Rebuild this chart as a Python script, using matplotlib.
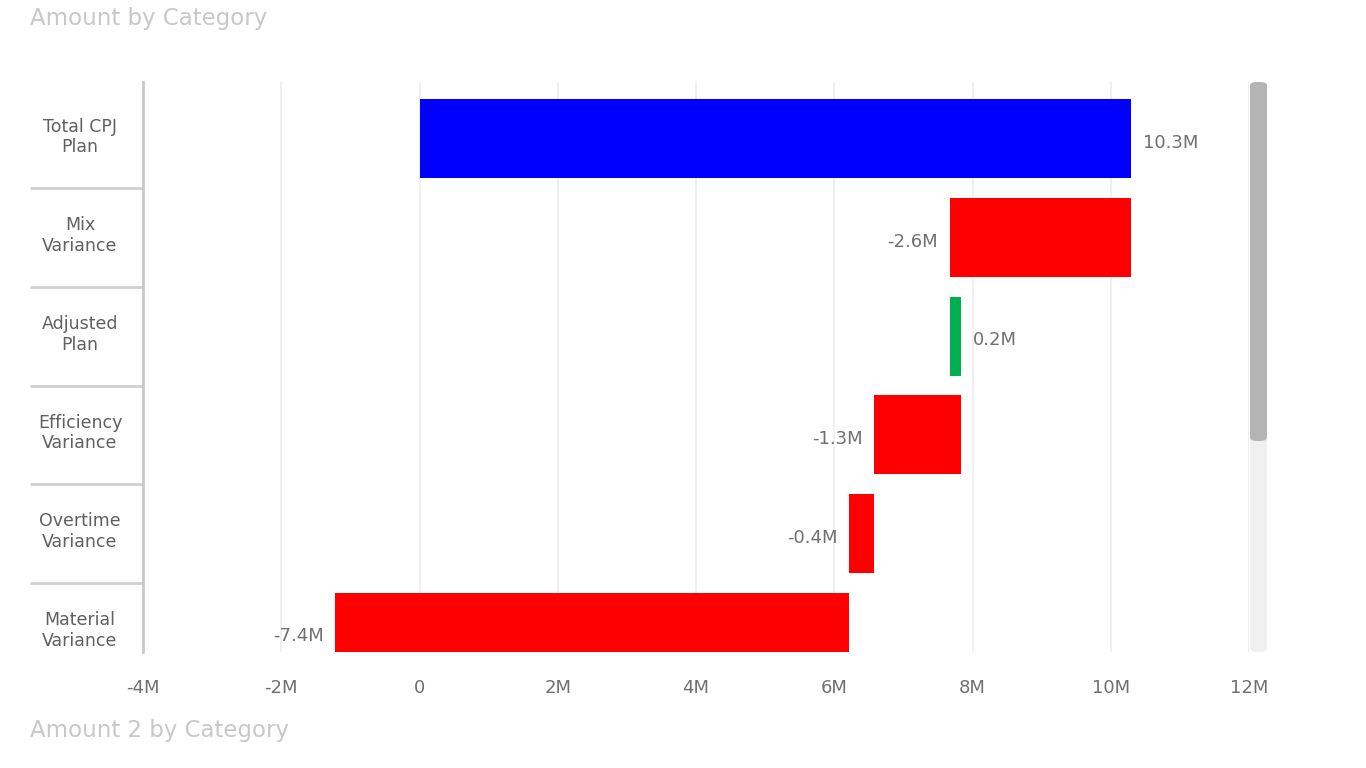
import matplotlib
matplotlib.use("Agg")
import matplotlib.pyplot as plt
from matplotlib.patches import FancyBboxPatch
import matplotlib.transforms as mtransforms

CATEGORIES = ["Total CPJ\nPlan", "Mix\nVariance", "Adjusted\nPlan",
              "Efficiency\nVariance", "Overtime\nVariance", "Material\nVariance"]
DELTAS = [10.3, -2.63, 0.17, -1.26, -0.36, -7.44]   # millions
KINDS = ["total", "delta", "delta", "delta", "delta", "delta"]
XTICKS = [-4, -2, 0, 2, 4, 6, 8, 10, 12]
XTICKLABELS = ["-4M", "-2M", "0", "2M", "4M", "6M", "8M", "10M", "12M"]

BLUE, RED, GREEN = "#0000ff", "#ff0000", "#00b050"
TXT = "#707070"
plt.rcParams["font.family"] = ["DejaVu Sans"]

W, H = 1366, 768
fig = plt.figure(figsize=(W / 100, H / 100), dpi=100)
ax = fig.add_axes([143 / W, 1 - 652 / H, (1249 - 143) / W, (652 - 82) / H])

# waterfall starts
starts, ends = [], []
run = 0.0
for v, k in zip(DELTAS, KINDS):
    s = 0.0 if k == "total" else run
    e = s + v
    starts.append(s); ends.append(e)
    run = e

for i, (s, e, v, k) in enumerate(zip(starts, ends, DELTAS, KINDS)):
    if k == "total":
        c = BLUE
    else:
        c = GREEN if v > 0 else RED
    lo, hi = min(s, e), max(s, e)
    ax.barh(i, hi - lo, left=lo, height=0.8, color=c, zorder=3)
    lab = f"{v:.1f}M"
    if v >= 0:
        ax.text(hi + 0.17, i + 0.04, lab, ha="left", va="center", fontsize=13, color=TXT, zorder=4)
    else:
        ax.text(lo - 0.17, i + 0.04, lab, ha="right", va="center", fontsize=13, color=TXT, zorder=4)

ax.set_xlim(-4, 12)
ax.set_ylim(5.2, -0.577)
ax.set_xticks(XTICKS)
ax.set_xticklabels([])
for x, t in zip(XTICKS, XTICKLABELS):
    ax.text(x, -0.064, t, transform=mtransforms.blended_transform_factory(ax.transData, ax.transAxes),
            ha="center", va="center", fontsize=13, color=TXT, clip_on=False)
ax.tick_params(length=0)
ax.set_yticks([])
ax.grid(axis="x", color="#eeeeee", linewidth=1.2, zorder=0)
for sp in ["top", "right", "bottom"]:
    ax.spines[sp].set_visible(False)
ax.spines["left"].set_color("#c8c8c8")
ax.spines["left"].set_linewidth(2)

# category labels and separators
trans = mtransforms.blended_transform_factory(ax.transAxes, ax.transData)
left_edge = (30 - 143) / (1249 - 143)
lab_x = (80 - 143) / (1249 - 143)
for i, c in enumerate(CATEGORIES):
    ax.text(lab_x, i - 0.02, c, transform=trans, ha="center", va="center", fontsize=12.5,
            color="#606060", linespacing=1.2, clip_on=False)
for i in range(len(CATEGORIES) - 1):
    ax.plot([left_edge, 0], [i + 0.5, i + 0.5], transform=trans, color="#d0d0d0",
            linewidth=2, clip_on=False, solid_capstyle="butt")

# titles
fig.text(30 / W, 1 - 18 / H, "Amount by Category", fontsize=16.5, color="#c8c8c8", va="center", ha="left")
fig.text(30 / W, 1 - 730 / H, "Amount 2 by Category", fontsize=16.5, color="#c8c8c8", va="center", ha="left")

# scrollbar
fig.patches.append(FancyBboxPatch((1250 / W, 1 - 652 / H), 17 / W, 570 / H,
                                  boxstyle="round,pad=0,rounding_size=0.005",
                                  transform=fig.transFigure, facecolor="#f0f0f0", edgecolor="none"))
fig.patches.append(FancyBboxPatch((1250 / W, 1 - 441 / H), 17 / W, 359 / H,
                                  boxstyle="round,pad=0,rounding_size=0.005",
                                  transform=fig.transFigure, facecolor="#b4b4b4", edgecolor="none"))

fig.savefig("out.png", dpi=100)
